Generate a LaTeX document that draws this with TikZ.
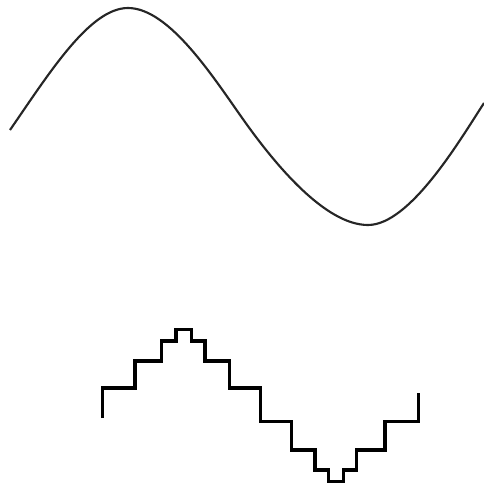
\documentclass[tikz,border=0pt]{standalone}
\begin{document}
\begin{tikzpicture}[x=0.75pt,y=-0.75pt,
  wave/.style={line width=1.6pt,draw=black!85,line cap=butt},
  stair/.style={line width=2.5pt,draw=black,line join=miter}]
\useasboundingbox (0,0) rectangle (484,489);
\coordinate (s0) at (10,130);
\coordinate (s1) at (128,8);
\coordinate (s2) at (245,122);
\coordinate (s3) at (368,225);
\coordinate (s4) at (484,103);
\draw[wave] (s0) .. controls (50,72) and (90,8) .. (s1)
  .. controls (170,8) and (215,80) .. (s2)
  .. controls (275,164) and (325,225) .. (s3)
  .. controls (410,225) and (460,140) .. (s4);
\draw[stair] (102.7,418) |- (135,388) |- (161.7,361) |- (176,341) |- (191.7,329.3) |- (205,341) |- (229.3,361) |- (260.7,388) |- (291.7,421.7) |- (315,450) |- (328.3,470) |- (343.3,481.7) |- (356.7,470) |- (385,450) |- (418.3,421.7) -- (418.3,392.7);
\end{tikzpicture}
\end{document}
